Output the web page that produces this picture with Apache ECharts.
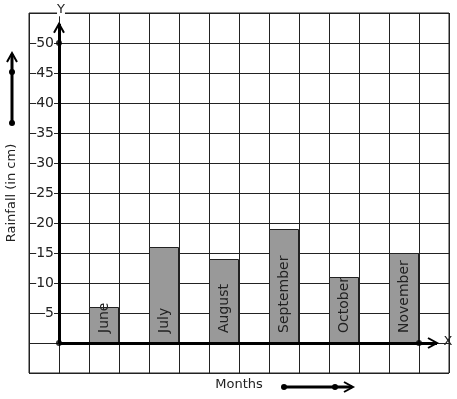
<!DOCTYPE html>
<html>
<head>
<meta charset="utf-8">
<script src="https://cdn.jsdelivr.net/npm/echarts@6/dist/echarts.min.js"></script>
<style>
  html, body { margin: 0; padding: 0; background: #fff; }
  #myChart { width: 457px; height: 399px; }
</style>
</head>
<body>
<div id="myChart"></div>
<script>
// data
var months = ["June", "July", "August", "September", "October", "November"];
var rainfall = [6, 16, 14, 19, 11, 15];
var yTicks = [5, 10, 15, 20, 25, 30, 35, 40, 45, 50];

var font = "DejaVu Sans";
var ink = "#222";

// each month sits in every second grid column, starting one column right of the y axis
var barData = months.map(function (m, i) {
  return { value: [1.5 + 2 * i, rainfall[i]], name: m };
});

var yTipVal = 53.2; // where the y arrow ends
var xTipVal = 12.6; // where the x arrow ends

var myChart = echarts.init(document.getElementById("myChart"));
var option = {
  animation: false,
  grid: {
    left: 29,
    right: 8,
    top: 13,
    bottom: 26,
    show: true,
    borderColor: ink,
    borderWidth: 1,
  },
  xAxis: {
    type: "value",
    min: -1,
    max: 13,
    interval: 1,
    axisLine: { show: false },
    axisTick: { show: false },
    axisLabel: { show: false },
    splitLine: { show: true, lineStyle: { color: ink, width: 1 } },
  },
  yAxis: {
    type: "value",
    min: -5,
    max: 55,
    interval: 5,
    axisLine: { show: false, onZero: false },
    axisTick: { show: false },
    axisLabel: {
      margin: -25, // labels sit just left of the y axis, inside the grid
      align: "right",
      fontFamily: font,
      fontSize: 14,
      color: ink,
      backgroundColor: "#fff",
      formatter: function (v) {
        return yTicks.indexOf(v) >= 0 ? String(v) : "";
      },
    },
    splitLine: { show: true, lineStyle: { color: ink, width: 1 } },
  },
  series: [
    {
      name: "Rainfall",
      type: "bar",
      barWidth: 30,
      data: barData,
      itemStyle: { color: "#999999", borderColor: ink, borderWidth: 1 },
      label: {
        show: true,
        position: "insideBottom",
        distance: 10,
        rotate: 90,
        align: "left",
        verticalAlign: "middle",
        fontFamily: font,
        fontSize: 14,
        color: ink,
        formatter: "{b}",
      },
      z: 3,
      markLine: {
        silent: true,
        symbol: ["none", "none"],
        lineStyle: { color: "#000", width: 3, type: "solid" },
        label: { show: false },
        data: [
          [{ coord: [0, 0] }, { coord: [0, yTipVal] }],
          [{ coord: [0, 0] }, { coord: [xTipVal, 0] }],
        ],
        z: 5,
      },
    },
    {
      type: "scatter",
      data: [[0, 0], [0, 50], [12, 0]],
      symbolSize: 6,
      itemStyle: { color: "#000" },
      z: 6,
      silent: true,
    },
  ],
  graphic: [
    {
      type: "text",
      x: 12,
      y: 193,
      rotation: Math.PI / 2,
      style: {
        text: "Rainfall (in cm)",
        font: "13px DejaVu Sans",
        fill: ink,
        align: "center",
        verticalAlign: "middle",
      },
    },
    { type: "line", shape: { x1: 12, y1: 123, x2: 12, y2: 54 }, style: { stroke: "#000", lineWidth: 3 } },
    { type: "circle", shape: { cx: 12, cy: 123, r: 3 }, style: { fill: "#000" } },
    { type: "circle", shape: { cx: 12, cy: 72, r: 3 }, style: { fill: "#000" } },
    { type: "polyline", shape: { points: [[7, 62], [12, 53], [17, 62]] }, style: { stroke: "#000", lineWidth: 2, fill: null } },
    {
      type: "text",
      x: 239,
      y: 385,
      style: {
        text: "Months",
        font: "13px DejaVu Sans",
        fill: ink,
        align: "center",
        verticalAlign: "middle",
      },
    },
    { type: "line", shape: { x1: 284, y1: 387, x2: 352, y2: 387 }, style: { stroke: "#000", lineWidth: 3 } },
    { type: "circle", shape: { cx: 284, cy: 387, r: 3 }, style: { fill: "#000" } },
    { type: "circle", shape: { cx: 335, cy: 387, r: 3 }, style: { fill: "#000" } },
    { type: "polyline", shape: { points: [[344, 382], [353, 387], [344, 392]] }, style: { stroke: "#000", lineWidth: 2, fill: null } },
  ],
};
myChart.setOption(option);

// arrow heads and axis letters, placed from the axis scales
var yTip = myChart.convertToPixel({ gridIndex: 0 }, [0, yTipVal]);
var xTip = myChart.convertToPixel({ gridIndex: 0 }, [xTipVal, 0]);
var extra = option.graphic.concat([
  {
    type: "polyline",
    z: 10,
    shape: { points: [[yTip[0] - 5, yTip[1] + 9], [yTip[0], yTip[1]], [yTip[0] + 5, yTip[1] + 9]] },
    style: { stroke: "#000", lineWidth: 2, fill: null },
  },
  {
    type: "polyline",
    z: 10,
    shape: { points: [[xTip[0] - 9, xTip[1] - 5], [xTip[0], xTip[1]], [xTip[0] - 9, xTip[1] + 5]] },
    style: { stroke: "#000", lineWidth: 2, fill: null },
  },
  {
    type: "text",
    z: 10,
    x: yTip[0] + 2,
    y: yTip[1] - 14,
    style: {
      text: "Y",
      font: "13px DejaVu Sans",
      fill: ink,
      backgroundColor: "#fff",
      align: "center",
      verticalAlign: "middle",
    },
  },
  {
    type: "text",
    z: 10,
    x: xTip[0] + 11,
    y: xTip[1] - 1,
    style: {
      text: "X",
      font: "13px DejaVu Sans",
      fill: ink,
      align: "center",
      verticalAlign: "middle",
    },
  },
]);
myChart.setOption({ graphic: extra }, { replaceMerge: ["graphic"] });
</script>
</body>
</html>
